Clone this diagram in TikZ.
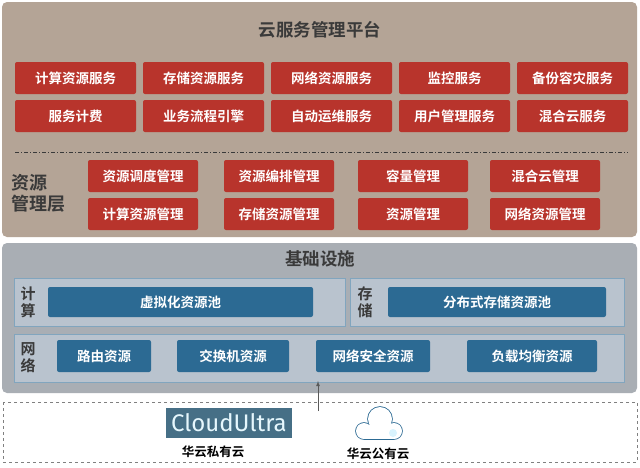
\documentclass[tikz,border=0pt]{standalone}
\usepackage{fontspec}
\setmainfont{Noto Sans CJK SC}[BoldFont={Noto Sans CJK SC Bold}]
\newfontfamily\logofont{Fira Sans}
\begin{document}
\begin{tikzpicture}[x=1pt,y=-1pt,
  red/.style={draw=none,fill=boxred,rounded corners=2pt,text=white,font=\bfseries\fontsize{13.5}{15}\selectfont,inner sep=0pt},
  blu/.style={draw=none,fill=boxblue,rounded corners=2pt,text=white,font=\bfseries\fontsize{13.5}{15}\selectfont,inner sep=0pt},
  ttl/.style={font=\bfseries\fontsize{17.5}{19}\selectfont,text=titlegray},
  side/.style={font=\bfseries\fontsize{15}{17}\selectfont,text=titlegray,align=center,inner sep=0pt}]
\definecolor{boxred}{HTML}{B8342C}
\definecolor{boxblue}{HTML}{2C6A93}
\definecolor{tan}{HTML}{B4A496}
\definecolor{gpan}{HTML}{A9AEB4}
\definecolor{ipan}{HTML}{B9C3CE}
\definecolor{titlegray}{HTML}{3A3A3A}
\definecolor{logoc}{HTML}{466F86}
\useasboundingbox (0,0) rectangle (640,467);
\fill[white] (0,0) rectangle (640,467);
% top panel
\fill[tan,rounded corners=5pt] (2,2) rectangle (637,237);
\node[ttl] (t1) at (320,30) {云服务管理平台};
\node[red,minimum width=121,minimum height=32] (a1) at (75.5,78) {计算资源服务};
\node[red,minimum width=121,minimum height=32] (a2) at (203.5,78) {存储资源服务};
\node[red,minimum width=121,minimum height=32] (a3) at (331.5,78) {网络资源服务};
\node[red,minimum width=111,minimum height=32] (a4) at (454.5,78) {监控服务};
\node[red,minimum width=111,minimum height=32] (a5) at (572.5,78) {备份容灾服务};
\node[red,minimum width=121,minimum height=32] (b1) at (75.5,116) {服务计费};
\node[red,minimum width=121,minimum height=32] (b2) at (203.5,116) {业务流程引擎};
\node[red,minimum width=121,minimum height=32] (b3) at (331.5,116) {自动运维服务};
\node[red,minimum width=111,minimum height=32] (b4) at (454.5,116) {用户管理服务};
\node[red,minimum width=111,minimum height=32] (b5) at (572.5,116) {混合云服务};
\draw[titlegray,dash pattern=on 4pt off 2pt on 1pt off 2pt,line width=0.8pt] (15,152) -- (628,152);
\node[side,align=left,font=\bfseries\fontsize{18}{21}\selectfont] (zy) at (39,193) {资源\\管理层};
\node[red,minimum width=110,minimum height=32] (c1) at (143,176) {资源调度管理};
\node[red,minimum width=110,minimum height=32] (c2) at (279,176) {资源编排管理};
\node[red,minimum width=110,minimum height=32] (c3) at (413,176) {容量管理};
\node[red,minimum width=110,minimum height=32] (c4) at (545,176) {混合云管理};
\node[red,minimum width=110,minimum height=32] (d1) at (143,214) {计算资源管理};
\node[red,minimum width=110,minimum height=32] (d2) at (279,214) {存储资源管理};
\node[red,minimum width=110,minimum height=32] (d3) at (413,214) {资源管理};
\node[red,minimum width=110,minimum height=32] (d4) at (545,214) {网络资源管理};
% bottom panel
\fill[gpan,rounded corners=5pt] (2,243) rectangle (637,393);
\node[ttl] (t2) at (320,259) {基础设施};
\draw[boxblue!60,fill=ipan] (14,278) rectangle (345,326);
\draw[boxblue!60,fill=ipan] (350,278) rectangle (624,326);
\draw[boxblue!60,fill=ipan] (14,334) rectangle (624,382);
\node[side] (js) at (28,302) {计\\算};
\node[side] (cc) at (365,302) {存\\储};
\node[side] (wl) at (28,358) {网\\络};
\node[blu,minimum width=265,minimum height=30] (v) at (180.5,302) {虚拟化资源池};
\node[blu,minimum width=218,minimum height=30] (s) at (497,302) {分布式存储资源池};
\node[blu,minimum width=94,minimum height=32] (n1) at (104,356) {路由资源};
\node[blu,minimum width=112,minimum height=32] (n2) at (233,356) {交换机资源};
\node[blu,minimum width=114,minimum height=32] (n3) at (373,356) {网络安全资源};
\node[blu,minimum width=130,minimum height=32] (n4) at (532,356) {负载均衡资源};
% bottom dashed
\draw[gray,dashed,line width=0.6pt] (3,402) rectangle (637,462);
\coordinate (ab) at (318,411);
\coordinate (at) at (318,381);
\draw[gray!70!black,line width=0.8pt,-latex] (ab) -- (at);
\node[fill=logoc,minimum width=126,minimum height=30,inner sep=0pt,text=white!90!cyan,font=\fontsize{24}{25}\selectfont\logofont] (logo) at (229,423) {CloudUltra};
\node[font=\bfseries\fontsize{12.5}{14}\selectfont] (l1) at (213,452) {华云私有云};
% cloud
\foreach \c/\r in {{(364,431)}/8,{(380,419)}/12,{(394,431)}/8}{\draw[boxblue,line width=1.6pt] \c circle (\r);}
\draw[boxblue,line width=1.6pt] (364,439) -- (394,439);
\foreach \c/\r in {{(364,431)}/8,{(380,419)}/12,{(394,431)}/8}{\fill[white] \c circle (\r);}
\fill[white] (364,425) rectangle (394,439);
\fill[cyan!15] (393,433) circle (4);
\node[font=\bfseries\fontsize{12.5}{14}\selectfont] (l2) at (378,454) {华云公有云};
\end{tikzpicture}
\end{document}
